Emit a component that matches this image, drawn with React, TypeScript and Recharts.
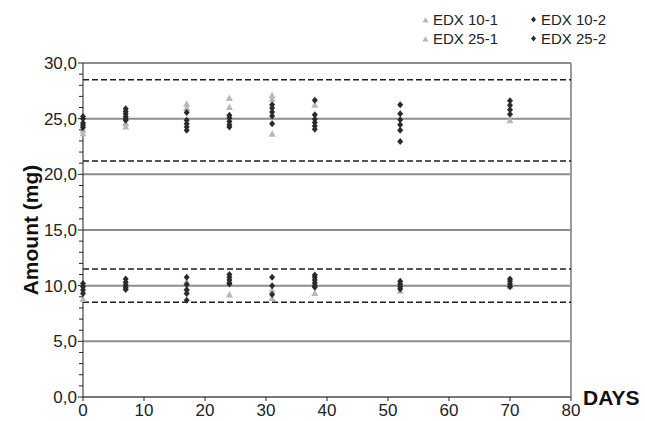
import React from 'react';
import {
    ScatterChart,
    Scatter,
    XAxis,
    YAxis,
    ReferenceLine,
    Legend
} from 'recharts';

// sampling days
const days = [0, 7, 17, 24, 31, 38, 52, 70];

// values per day (mg)
const edx101 = [[8.8], [9.9], [10.4, 9.8], [9.2], [9.6, 8.9], [9.35], [9.55], [10.0]];
const edx102 = [
    [10.2, 9.9, 9.6, 9.3],
    [10.6, 10.3, 10.05, 9.85, 9.65],
    [10.75, 10.1, 9.6, 9.3, 8.7],
    [11.0, 10.75, 10.5, 10.25, 10.15],
    [10.75, 10.0, 9.2],
    [10.95, 10.75, 10.5, 10.25, 10.0, 9.85],
    [10.4, 10.15, 9.9, 9.7],
    [10.6, 10.4, 10.15, 9.9]
];
const edx251 = [[24.0, 23.7], [24.6, 24.3], [26.35, 25.95], [26.85, 26.05], [27.1, 26.8, 23.65], [26.25], [], [24.85]];
const edx252 = [
    [25.2, 25.0, 24.6, 24.4, 24.2],
    [25.9, 25.65, 25.45, 25.2, 25.0, 24.85],
    [25.55, 24.85, 24.55, 24.25, 23.95],
    [25.3, 25.05, 24.75, 24.45, 24.25],
    [26.25, 25.95, 25.6, 25.25, 24.55],
    [26.65, 25.35, 24.95, 24.65, 24.35, 24.05],
    [26.25, 25.45, 24.9, 24.45, 23.95, 22.95],
    [26.6, 26.2, 25.8, 25.4]
];

const xTicks = [0, 10, 20, 30, 40, 50, 60, 70, 80];
const yTicks = Array.from({ length: 31 }, (_, i) => i);
const gridLines = [5, 10, 15, 20, 25, 30];
const limitLines = [28.5, 21.2, 11.5, 8.5];

const FONT = '"Liberation Sans", Arial, sans-serif';
const LIGHT = '#b8b8b8';
const DARK = '#2a2a2a';

const toPoints = (groups: number[][]) =>
    groups.flatMap((vals, i) => vals.map((v) => ({ day: days[i], amount: v })));

const Triangle = (props: any) => {
    const { cx, cy } = props;
    return <polygon points={`${cx},${cy - 3.5} ${cx + 3.5},${cy + 3} ${cx - 3.5},${cy + 3}`} fill={LIGHT} />;
};

const Diamond = (props: any) => {
    const { cx, cy } = props;
    return <polygon points={`${cx},${cy - 3.5} ${cx + 3},${cy} ${cx},${cy + 3.5} ${cx - 3},${cy}`} fill={DARK} />;
};

const YTick = (props: any) => {
    const { x, y, payload } = props;
    const major = payload.value % 5 === 0;
    return (
        <g>
            <line x1={x - (major ? 5 : 4)} x2={x} y1={y} y2={y} stroke="#222" strokeWidth={1} />
            {major && (
                <text x={x - 6} y={y} dy="0.36em" textAnchor="end" fontSize={17} fill="#222" fontFamily={FONT}>
                    {payload.value.toFixed(1).replace('.', ',')}
                </text>
            )}
        </g>
    );
};

const legendItems = [
    { name: 'EDX 10-1', dark: false },
    { name: 'EDX 10-2', dark: true },
    { name: 'EDX 25-1', dark: false },
    { name: 'EDX 25-2', dark: true }
];

const renderLegend = () => (
    <div style={{ display: 'grid', gridTemplateColumns: '108px 108px', rowGap: 1, fontFamily: FONT, fontSize: 15, color: '#222' }}>
        {legendItems.map((it) => (
            <div key={it.name} style={{ display: 'flex', alignItems: 'center', height: 18 }}>
                <svg width={9} height={9} style={{ marginRight: 3 }}>
                    {it.dark
                        ? <polygon points="4.5,1.5 7,4.5 4.5,7.5 2,4.5" fill={DARK} />
                        : <polygon points="4.5,2 7.5,7.5 1.5,7.5" fill={LIGHT} />}
                </svg>
                <span>{it.name}</span>
            </div>
        ))}
    </div>
);

export default function App() {
    return (
        <div style={{ position: 'absolute', left: 0, top: 0, background: '#fff' }}>
            <ScatterChart width={645} height={421} margin={{ top: 63, right: 74, left: 33, bottom: 0 }}>
                {gridLines.map((v) => (
                    <ReferenceLine key={`g${v}`} y={v} stroke="#8c8c8c" strokeWidth={2} ifOverflow="extendDomain" />
                ))}
                <ReferenceLine x={80} stroke="#9a9a9a" strokeWidth={2} />
                {limitLines.map((v) => (
                    <ReferenceLine key={`l${v}`} y={v} stroke="#1e1e1e" strokeWidth={1.5} strokeDasharray="6 3" />
                ))}

                <XAxis
                    type="number"
                    dataKey="day"
                    domain={[0, 80]}
                    ticks={xTicks}
                    height={24}
                    tickSize={4}
                    tickMargin={3}
                    stroke="#777"
                    strokeWidth={2}
                    tickLine={{ stroke: '#222', strokeWidth: 1 }}
                    tick={{ fill: '#222', fontSize: 17, fontFamily: FONT }}
                    interval={0}
                    label={{
                        content: (p: any) => (
                            <text
                                x={p.viewBox.x + p.viewBox.width + 12}
                                y={p.viewBox.y}
                                dy="0.36em"
                                fontSize={21}
                                fontWeight="bold"
                                fill="#111"
                                fontFamily={FONT}
                            >
                                DAYS
                            </text>
                        )
                    }}
                />
                <YAxis
                    type="number"
                    dataKey="amount"
                    domain={[0, 30]}
                    ticks={yTicks}
                    interval={0}
                    width={50}
                    tickSize={0}
                    tickMargin={0}
                    tickLine={false}
                    stroke="#222"
                    tick={<YTick />}
                    label={{
                        content: (p: any) => {
                            const cx = p.viewBox.x - 3;
                            const cy = p.viewBox.y + p.viewBox.height / 2;
                            return (
                                <text
                                    x={cx}
                                    y={cy}
                                    transform={`rotate(-90 ${cx} ${cy})`}
                                    textAnchor="middle"
                                    dy="0.36em"
                                    fontSize={21}
                                    fontWeight="bold"
                                    fill="#111"
                                    fontFamily={FONT}
                                >
                                    Amount (mg)
                                </text>
                            );
                        }
                    }}
                />

                <Legend
                    layout="horizontal"
                    verticalAlign="middle"
                    align="center"
                    content={renderLegend}
                    wrapperStyle={{ top: 10, left: 421, width: 220 }}
                />

                <Scatter name="EDX 10-1" data={toPoints(edx101)} shape={<Triangle />} isAnimationActive={false} />
                <Scatter name="EDX 25-1" data={toPoints(edx251)} shape={<Triangle />} isAnimationActive={false} />
                <Scatter name="EDX 10-2" data={toPoints(edx102)} shape={<Diamond />} isAnimationActive={false} />
                <Scatter name="EDX 25-2" data={toPoints(edx252)} shape={<Diamond />} isAnimationActive={false} />
            </ScatterChart>
        </div>
    );
}
